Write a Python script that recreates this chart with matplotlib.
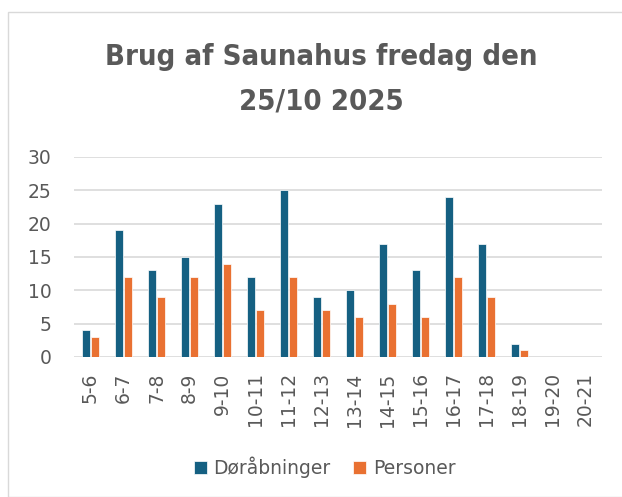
import numpy as np
import matplotlib.pyplot as plt
from matplotlib.patches import Rectangle

# tidsrum og data
tider = ['5-6', '6-7', '7-8', '8-9', '9-10', '10-11', '11-12', '12-13',
         '13-14', '14-15', '15-16', '16-17', '17-18', '18-19', '19-20', '20-21']
doraabninger = [4, 19, 13, 15, 23, 12, 25, 9, 10, 17, 13, 24, 17, 2, 0, 0]
personer = [3, 12, 9, 12, 14, 7, 12, 7, 6, 8, 6, 12, 9, 1, 0, 0]

blaa = '#156082'
orange = '#E97132'
graa = '#595959'

plt.rcParams['font.family'] = ['DejaVu Sans']

fig = plt.figure(figsize=(6.22, 4.97), dpi=100)
fig.patches.append(Rectangle((8/622, 0), 1, 1 - 12/497, transform=fig.transFigure,
                             fill=False, edgecolor='#d9d9d9', linewidth=1))
ax = fig.add_axes([74/622, 1 - 357/497, 528/622, 200/497])

x = np.arange(len(tider))
b = 0.23
ax.bar(x - 0.13, doraabninger, b, color=blaa, edgecolor='white', linewidth=0.5, label='Døråbninger', zorder=3)
ax.bar(x + 0.145, personer, b, color=orange, edgecolor='white', linewidth=0.5, label='Personer', zorder=3)

ax.set_xlim(-0.5, len(tider) - 0.5)
ax.set_ylim(0, 30)
ax.set_yticks(range(0, 31, 5))
ax.set_xticks(x)
ax.set_xticklabels(tider, rotation=90)
ax.grid(axis='y', color='#d9d9d9', linewidth=1.2, zorder=0)
for s in ax.spines.values():
    s.set_visible(False)
ax.tick_params(axis='x', length=0, colors=graa, labelsize=13.5, pad=11)
ax.tick_params(axis='y', length=0, colors=graa, labelsize=13.5, pad=16)

fig.text(321/622, 1 - 79/497, 'Brug af Saunahus fredag den\n25/10 2025', ha='center', va='center',
         fontsize=21, fontweight='bold', fontstretch='condensed', color=graa, linespacing=1.74)

fig.legend(loc='center', bbox_to_anchor=(0.522, 1 - 467/497), ncol=2, frameon=False,
           prop={'size': 13.5}, labelcolor=graa,
           handlelength=0.7, handleheight=0.7, handletextpad=0.35, columnspacing=1.2)

fig.savefig('out.png', dpi=100)
